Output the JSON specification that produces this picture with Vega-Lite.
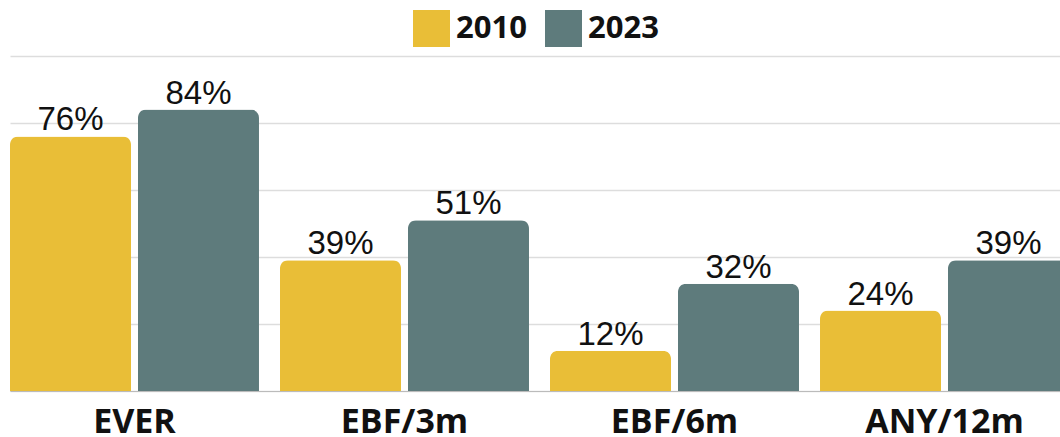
{
  "$schema": "https://vega.github.io/schema/vega-lite/v6.json",
  "width": 1050,
  "height": 335,
  "autosize": {"type": "none"},
  "padding": {"left": 10, "top": 56, "right": 0, "bottom": 46},
  "background": "white",
  "view": {"stroke": null},
  "data": {
    "values": [
      {"category": "EVER", "year": "2010", "value": 76, "label": "76%"},
      {"category": "EVER", "year": "2023", "value": 84, "label": "84%"},
      {"category": "EBF/3m", "year": "2010", "value": 39, "label": "39%"},
      {"category": "EBF/3m", "year": "2023", "value": 51, "label": "51%"},
      {"category": "EBF/6m", "year": "2010", "value": 12, "label": "12%"},
      {"category": "EBF/6m", "year": "2023", "value": 32, "label": "32%"},
      {"category": "ANY/12m", "year": "2010", "value": 24, "label": "24%"},
      {"category": "ANY/12m", "year": "2023", "value": 39, "label": "39%"}
    ]
  },
  "encoding": {
    "x": {
      "field": "category",
      "type": "nominal",
      "sort": ["EVER", "EBF/3m", "EBF/6m", "ANY/12m"],
      "scale": {"range": [0, 1059], "paddingInner": 0.0778, "paddingOuter": 0},
      "axis": {
        "title": null,
        "labelAngle": 0,
        "ticks": false,
        "domain": true,
        "domainColor": "#bbbbbb",
        "domainWidth": 1,
        "labelFont": "Open Sans",
        "labelFontWeight": "bold",
        "labelFontSize": 34,
        "labelColor": "#111111",
        "labelPadding": 14
      }
    },
    "xOffset": {
      "field": "year",
      "type": "nominal",
      "scale": {"paddingInner": 0.0547, "paddingOuter": 0}
    },
    "y": {
      "field": "value",
      "type": "quantitative",
      "scale": {"domain": [0, 100], "nice": false},
      "axis": {
        "title": null,
        "labels": false,
        "ticks": false,
        "domain": false,
        "grid": true,
        "gridColor": "#dddddd",
        "gridWidth": 1.5,
        "values": [0, 20, 40, 60, 80, 100]
      }
    }
  },
  "layer": [
    {
      "mark": {"type": "bar", "cornerRadiusTopLeft": 8, "cornerRadiusTopRight": 8},
      "encoding": {
        "color": {
          "field": "year",
          "type": "nominal",
          "scale": {"domain": ["2010", "2023"], "range": ["#E9BE37", "#5E7B7C"]},
          "legend": {
            "title": null,
            "orient": "none",
            "legendX": 403,
            "legendY": -46,
            "direction": "horizontal",
            "symbolType": "square",
            "symbolSize": 1369,
            "symbolStrokeWidth": 0,
            "symbolOpacity": 1,
            "labelFont": "Open Sans",
            "labelFontWeight": "bold",
            "labelFontSize": 31,
            "labelColor": "#111111",
            "labelOffset": 6,
            "columnPadding": 18
          }
        }
      }
    },
    {
      "mark": {
        "type": "text",
        "baseline": "alphabetic",
        "dy": -6,
        "font": "Liberation Sans",
        "fontSize": 33,
        "color": "#111111"
      },
      "encoding": {
        "text": {"field": "label"}
      }
    }
  ]
}
